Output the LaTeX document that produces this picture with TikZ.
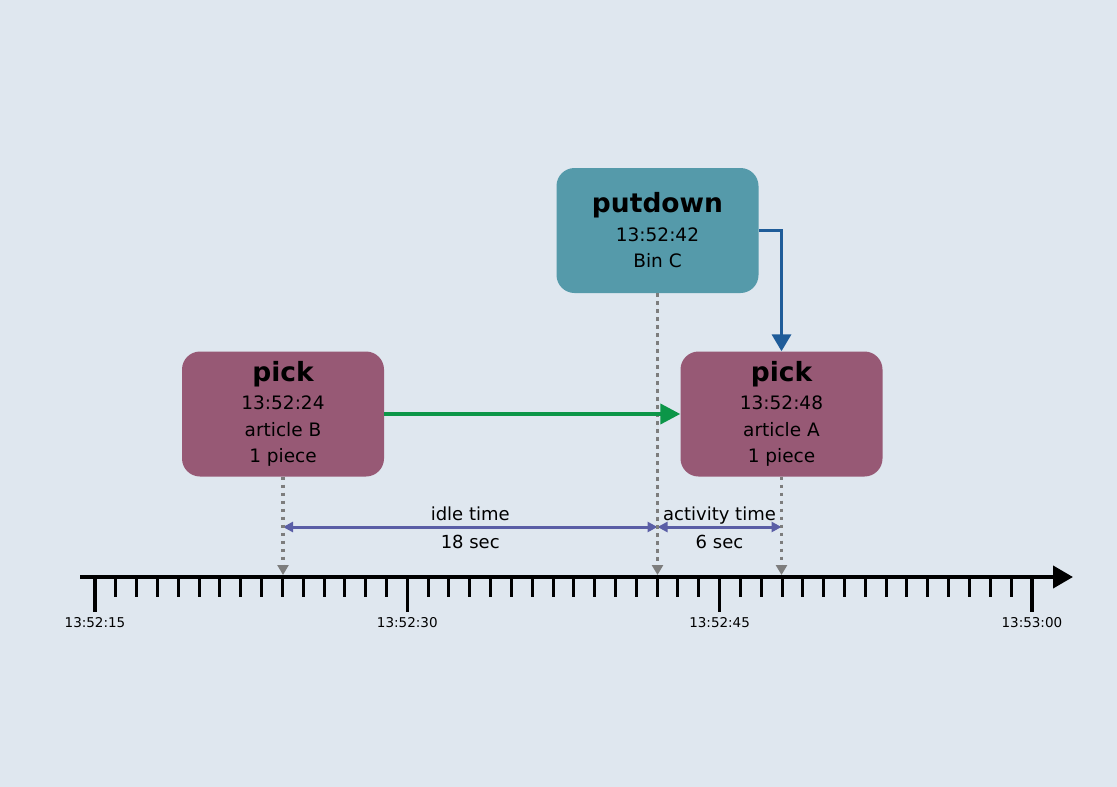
\documentclass[tikz,border=0pt]{standalone}
\usepackage{fontspec}
\setmainfont{DejaVu Sans}
\usepackage{xcolor}
\usetikzlibrary{arrows.meta, positioning}
\definecolor{bgblue}{RGB}{223,231,239}
\definecolor{pickred}{RGB}{151,89,117}
\definecolor{putteal}{RGB}{85,154,170}
\definecolor{flowgreen}{RGB}{12,150,72}
\definecolor{flowblue}{RGB}{31,92,153}
\definecolor{spanpurple}{RGB}{90,94,166}
\definecolor{markgray}{RGB}{125,125,125}
\newcommand{\evtitle}{\fontsize{26.5}{30}\selectfont\bfseries}

\begin{document}
\begin{tikzpicture}[x=1pt, y=-1pt,
        box/.style={rectangle, rounded corners=18pt, minimum width=202pt, minimum height=125pt, inner sep=0pt, align=center, font=\fontsize{18.5}{26.5}\selectfont},
        dotline/.style={markgray, line width=3.8pt, dash pattern=on 3.5pt off 4.5pt, -{Triangle[length=10pt,width=11pt]}},
        span/.style={spanpurple, line width=3pt, {Triangle[length=10pt,width=10pt]}-{Triangle[length=10pt,width=10pt]}},
        spanlabel/.style={text=black, font=\fontsize{18}{20}\selectfont, text height=13.5pt, text depth=4pt, inner sep=1pt},
        ticklabel/.style={font=\fontsize{13.5}{16}\selectfont, inner sep=0pt}
    ]
        \fill[bgblue] (0,0) rectangle (1117,787);
        \useasboundingbox (0,0) rectangle (1117,787);

        % events
        \node[box, fill=pickred] (pickB) at (283,414) {{\evtitle pick}\\[2pt] 13:52:24\\ article B\\ 1 piece};
        \node[box, fill=pickred] (pickA) at (781.5,414) {{\evtitle pick}\\[2pt] 13:52:48\\ article A\\ 1 piece};
        \node[box, fill=putteal] (putdown) at (657.5,230.5) {{\evtitle putdown}\\[2pt] 13:52:42\\ Bin C};

        % time axis
        \coordinate (axisstart) at (80,577);
        \coordinate (axisend) at (1073,577);
        \coordinate (axistop) at (0,575);
        \draw[line width=4pt, -{Triangle[length=20pt,width=22pt]}] (axisstart) -- (axisend);
        \foreach \i in {0,...,45}
            \draw[line width=3pt] (95+20.82*\i,577) -- ++(0,20);
        \foreach \i/\t in {0/13:52:15, 15/13:52:30, 30/13:52:45, 45/13:53:00} {
            \draw[line width=3.5pt] (95+20.82*\i,577) -- ++(0,35);
            \node[ticklabel] (lbl\i) at (95+20.82*\i,623) {\t};
        }

        % spans
        \draw[span] (pickB.south |- 0,527) -- (putdown.south |- 0,527)
            node[spanlabel, midway, above] (idle) {idle time}
            node[spanlabel, midway, below=5pt] (idlesec) {18 sec};
        \draw[span] (putdown.south |- 0,527) -- (pickA.south |- 0,527)
            node[spanlabel, midway, above] (active) {activity time}
            node[spanlabel, midway, below=5pt] (activesec) {6 sec};

        \draw[dotline] (pickB.south) -- (pickB.south |- axistop);
        \draw[dotline] (putdown.south) -- (putdown.south |- axistop);
        \draw[dotline] (pickA.south) -- (pickA.south |- axistop);

        \draw[flowgreen, line width=4pt, -{Triangle[length=20pt,width=20pt]}] (pickB.east) -- (pickA.west);
        \draw[flowblue, line width=3.5pt, -{Triangle[length=17pt,width=19pt]}] (putdown.east) -| (pickA.north);
    \end{tikzpicture}
\end{document}
